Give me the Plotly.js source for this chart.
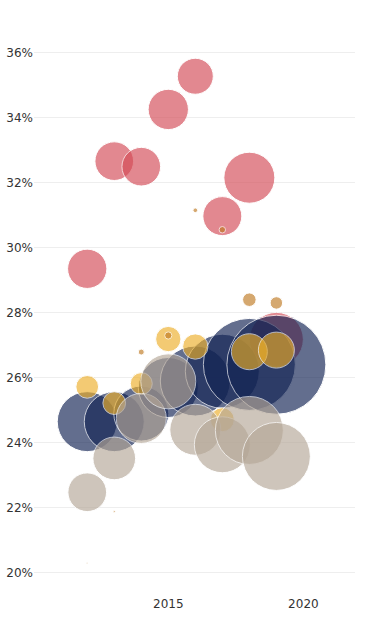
<!DOCTYPE html>
<html>
<head>
<meta charset="utf-8">
<script src="https://cdn.plot.ly/plotly-3.0.1.min.js"></script>
<style>
  html, body { margin: 0; padding: 0; background: #fff; }
  #chart { width: 369px; height: 621px; }
</style>
</head>
<body>
<div id="chart"></div>
<script>
// ---- data ----
const years = [2012, 2013, 2014, 2015, 2016, 2017, 2018, 2019];

const redShare   = [29.35, 32.66, 32.49, 34.25, 35.27, 30.97, 32.15, 27.18];
const redSize    = [38.6, 37.4, 37.4, 40.6, 32.4, 38.0, 65.0, 72.9];

const navyShare  = [24.65, 24.65, 24.90, 25.70, 25.90, 26.20, 26.41, 26.40];
const navySize   = [90, 90, 75.6, 90, 122.5, 137, 211.6, 245];

const goldShare  = [25.72, 25.22, 25.82, 27.19, 26.96, 24.71, 26.80, 26.85];
const goldSize   = [12.9, 12.9, 12.1, 16.0, 16.0, 14.4, 32.4, 32.4];

const beigeShare = [22.48, 23.52, 24.75, 25.89, 24.40, 23.94, 24.38, 23.58];
const beigeSize  = [37.4, 45.6, 62.5, 75.6, 65.0, 78.4, 115.6, 115.6];

const dotShare   = [20.30, 21.89, 26.79, 27.30, 31.15, 30.55, 28.40, 28.30];
const dotSize    = [0.03, 0.1, 0.9, 1.3, 0.55, 1.05, 4.6, 3.9];

const yTicks = [20, 22, 24, 26, 28, 30, 32, 34, 36];
const yTickLabels = ['20%', '22%', '24%', '26%', '28%', '30%', '32%', '34%', '36%'];
const xTicks = [2015, 2020];
const xTickLabels = ['2015', '2020'];

// ---- traces ----
function bubbles(y, s, color) {
  return {
    type: 'scatter',
    mode: 'markers',
    x: years,
    y: y,
    hoverinfo: 'skip',
    marker: {
      size: s,
      sizemode: 'area',
      sizeref: 0.05,
      color: color,
      opacity: 0.65,
      line: { color: '#ffffff', width: 1 }
    }
  };
}

const data = [
  bubbles(redShare, redSize, '#d44a55'),
  bubbles(navyShare, navySize, '#112253'),
  bubbles(goldShare, goldSize, '#edaf29'),
  bubbles(beigeShare, beigeSize, '#b5a797'),
  bubbles(dotShare, dotSize, '#c07a23')
];

const layout = {
  width: 369,
  height: 621,
  margin: { l: 34, r: 14, t: 20, b: 26 },
  paper_bgcolor: '#ffffff',
  plot_bgcolor: '#ffffff',
  showlegend: false,
  font: { family: 'DejaVu Sans', size: 12, color: '#333333' },
  xaxis: {
    range: [2010.03, 2021.91],
    tickmode: 'array',
    tickvals: xTicks,
    ticktext: xTickLabels,
    tickfont: { family: 'DejaVu Sans', size: 12, color: '#333333' },
    showgrid: false,
    zeroline: false,
    showline: false,
    ticks: ''
  },
  yaxis: {
    range: [19.32, 37.0],
    tickmode: 'array',
    tickvals: yTicks,
    ticktext: yTickLabels,
    tickfont: { family: 'DejaVu Sans', size: 12, color: '#333333' },
    showgrid: true,
    gridcolor: '#eeeeee',
    gridwidth: 1,
    zeroline: false,
    showline: false,
    ticks: ''
  }
};

Plotly.newPlot('chart', data, layout, { displayModeBar: false, staticPlot: true });
</script>
</body>
</html>
